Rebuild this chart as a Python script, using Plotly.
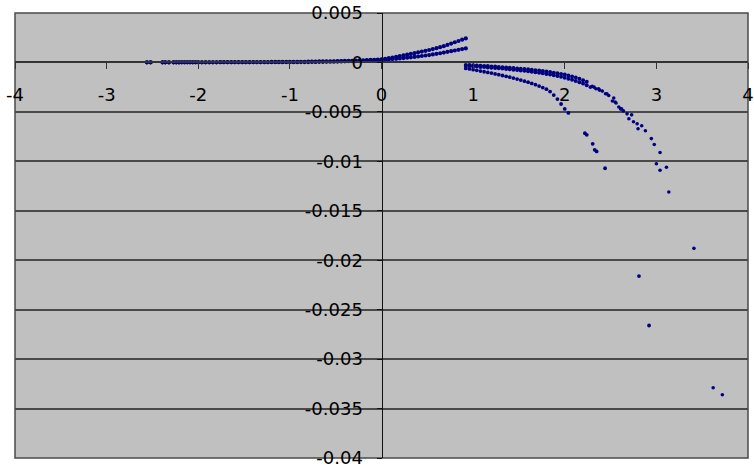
import plotly.graph_objects as go

# ---------------- data ----------------
# left branch: shared x, two curves
x_left = [-2.56, -2.52, -2.39, -2.36, -2.32, -2.27, -2.24, -2.21, -2.18, -2.15, -2.12, -2.09, -2.06, -2.03, -2.0,
          -1.96, -1.92, -1.88, -1.84, -1.8, -1.76, -1.72, -1.68, -1.64, -1.6, -1.56, -1.52,
          -1.48, -1.44, -1.4, -1.36, -1.32, -1.28, -1.24, -1.2, -1.16, -1.12, -1.08, -1.04, -1.0,
          -0.96, -0.92, -0.88, -0.84, -0.8, -0.76, -0.72, -0.68, -0.64, -0.6, -0.56, -0.52,
          -0.48, -0.44, -0.4, -0.36, -0.32, -0.28, -0.24, -0.2, -0.16, -0.12, -0.08, -0.04,
          0.0, 0.04, 0.08, 0.12, 0.16, 0.2, 0.24, 0.28, 0.32, 0.36, 0.4, 0.44,
          0.48, 0.52, 0.56, 0.6, 0.64, 0.68, 0.72, 0.76, 0.8, 0.84, 0.88, 0.92]
y_left_upper = [0.00001] * 8 + [0.00002] * 7 + \
    [0.00002, 0.00002, 0.00002, 0.00002, 0.00002, 0.00003, 0.00003, 0.00003, 0.00003, 0.00003, 0.00003, 0.00003] + \
    [0.00003, 0.00003, 0.00004, 0.00004, 0.00004, 0.00004, 0.00004, 0.00005, 0.00005, 0.00005, 0.00005, 0.00006, 0.00006] + \
    [0.00006, 0.00007, 0.00007, 0.00007, 0.00008, 0.00009, 0.00009, 0.0001, 0.0001, 0.00011, 0.00012, 0.00012] + \
    [0.00013, 0.00014, 0.00015, 0.00016, 0.00017, 0.00018, 0.0002, 0.00021, 0.00023, 0.00025, 0.00027, 0.00029] + \
    [0.00031, 0.00037, 0.00043, 0.0005, 0.00057, 0.00064, 0.00071, 0.00079, 0.00086, 0.00094, 0.00102, 0.0011] + \
    [0.00118, 0.00126, 0.00135, 0.00144, 0.00154, 0.00165, 0.00177, 0.00191, 0.00204, 0.00217, 0.0023, 0.00243]
y_left_lower = [0.00001] * 15 + \
    [0.00001] * 5 + [0.00002] * 7 + \
    [0.00002] * 7 + [0.00003] * 6 + \
    [0.00003, 0.00003, 0.00004, 0.00004, 0.00004, 0.00005, 0.00005, 0.00006, 0.00006, 0.00007, 0.00007, 0.00008] + \
    [0.00009, 0.0001, 0.00011, 0.00012, 0.00013, 0.00014, 0.00015, 0.00016, 0.00018, 0.0002, 0.00021, 0.00023] + \
    [0.00025, 0.00028, 0.00031, 0.00034, 0.00037, 0.0004, 0.00044, 0.00048, 0.00052, 0.00056, 0.0006, 0.00065] + \
    [0.0007, 0.00075, 0.00081, 0.00087, 0.00093, 0.001, 0.00107, 0.00114, 0.00121, 0.00128, 0.00135, 0.00142]

# right branch, dense part: shared x, two close upper rows
x_right = [0.92, 0.96, 1.0, 1.04, 1.08, 1.12, 1.16, 1.2, 1.24, 1.28, 1.32, 1.36, 1.4, 1.44, 1.48, 1.52, 1.56,
           1.6, 1.64, 1.68, 1.72, 1.76, 1.8, 1.84, 1.88, 1.92, 1.96, 2.0, 2.04, 2.08, 2.12, 2.16, 2.2, 2.24]
y_right_a = [-0.00025, -0.00027, -0.00029, -0.00031, -0.00033, -0.00035, -0.00037, -0.0004, -0.00042, -0.00045,
             -0.00048, -0.00051, -0.00054, -0.00057, -0.0006, -0.00063, -0.00067, -0.0007, -0.00074, -0.00078,
             -0.00082, -0.00087, -0.00092, -0.00097, -0.00103, -0.00109, -0.00116, -0.00123, -0.00132, -0.00142,
             -0.00153, -0.00166, -0.0018, -0.00196]
y_right_b = [-0.00035, -0.00037, -0.0004, -0.00042, -0.00045, -0.00047, -0.0005, -0.00053, -0.00056, -0.00059,
             -0.00062, -0.00066, -0.0007, -0.00073, -0.00077, -0.00081, -0.00085, -0.0009, -0.00094, -0.00099,
             -0.00104, -0.0011, -0.00116, -0.00122, -0.00129, -0.00137, -0.00145, -0.00154, -0.00164, -0.00175,
             -0.00187, -0.002, -0.00214, -0.0023]

# right branch, lower curve
x_right_low = [0.92, 0.96, 1.0, 1.04, 1.08, 1.12, 1.16, 1.2, 1.24, 1.28, 1.32, 1.36, 1.4, 1.44, 1.48, 1.52, 1.56,
               1.6, 1.64, 1.68, 1.72, 1.76, 1.8, 1.84, 1.88, 1.92, 1.96, 2.0, 2.04,
               2.22, 2.24, 2.305, 2.327, 2.348, 2.44, 2.81, 2.92]
y_right_low = [-0.0006, -0.00066, -0.00073, -0.0008, -0.00087, -0.00094, -0.00101, -0.00108, -0.00116, -0.00124,
               -0.00132, -0.0014, -0.00149, -0.00158, -0.00168, -0.00178, -0.00189, -0.002, -0.00212, -0.00225,
               -0.00239, -0.00254, -0.0027, -0.00295, -0.0033, -0.0037, -0.0042, -0.0047, -0.0051,
               -0.00716, -0.00732, -0.00823, -0.00884, -0.009, -0.0107, -0.0216, -0.0266]

# right branch, sparse upper tail
x_tail = [2.28, 2.3, 2.32, 2.34, 2.37, 2.38, 2.41, 2.445, 2.46, 2.48, 2.52, 2.535, 2.55, 2.56, 2.59, 2.61, 2.62,
          2.64, 2.68, 2.7, 2.73, 2.75, 2.79, 2.8, 2.84, 2.88, 2.945, 2.977, 3.0, 3.04, 3.04, 3.11, 3.136,
          3.41, 3.62, 3.72]
y_tail = [-0.0025, -0.0024, -0.0025, -0.00266, -0.00266, -0.0028, -0.0029, -0.00317, -0.00317, -0.00334, -0.0039,
          -0.0036, -0.004, -0.0041, -0.0045, -0.0047, -0.0047, -0.0049, -0.0052, -0.0057, -0.0053, -0.006,
          -0.0062, -0.0067, -0.0064, -0.0069, -0.0077, -0.0083, -0.01025, -0.0091, -0.0109, -0.0106, -0.0131,
          -0.0188, -0.0329, -0.0336]

x_ticks = [-4, -3, -2, -1, 0, 1, 2, 3, 4]
x_tick_labels = ["-4", "-3", "-2", "-1", "0", "1", "2", "3", "4"]
y_ticks = [0.005, 0, -0.005, -0.01, -0.015, -0.02, -0.025, -0.03, -0.035, -0.04]
y_tick_labels = ["0.005", "0", "-0.005", "-0.01", "-0.015", "-0.02", "-0.025", "-0.03", "-0.035", "-0.04"]

# ---------------- figure ----------------
NAVY = "#000080"

fig = go.Figure()
for xs, ys, sz in [(x_left, y_left_upper, 4.2), (x_left, y_left_lower, 4.2), (x_right, y_right_a, 4.0),
                   (x_right, y_right_b, 4.0), (x_right_low, y_right_low, 3.8), (x_tail, y_tail, 3.6)]:
    fig.add_trace(go.Scatter(x=xs, y=ys, mode="markers", marker=dict(color=NAVY, size=sz),
                             showlegend=False, hoverinfo="x+y"))

x_min, x_max = -4, 4
y_min, y_max = -0.04, 0.005
font = dict(family="DejaVu Sans, sans-serif", size=18, color="#000000")

fig.update_layout(
    width=754, height=469,
    margin=dict(l=15, r=0, t=13, b=11),
    paper_bgcolor="#ffffff",
    plot_bgcolor="#c0c0c0",
    showlegend=False,
    xaxis=dict(
        range=[x_min, x_max], tickvals=x_ticks, ticktext=x_tick_labels,
        anchor="free", position=(0 - y_min) / (y_max - y_min),
        showline=True, linecolor="#333333", linewidth=1.5,
        ticks="outside", ticklen=6, tickwidth=1, tickcolor="#333333",
        ticklabelstandoff=10, ticklabeloverflow="allow",
        showgrid=False, zeroline=False, tickfont=font,
    ),
    yaxis=dict(
        range=[y_min, y_max], tickvals=y_ticks, ticktext=y_tick_labels,
        anchor="free", position=(0 - x_min) / (x_max - x_min),
        showline=True, linecolor="#111111", linewidth=1,
        ticks="outside", ticklen=5, tickwidth=1, tickcolor="#111111",
        ticklabelstandoff=10, ticklabeloverflow="allow",
        showgrid=True, gridcolor="#4a4a4a", gridwidth=1.5,
        zeroline=False, tickfont=font,
    ),
    shapes=[dict(type="rect", xref="paper", yref="paper", x0=0, y0=0, x1=1, y1=1,
                 line=dict(color="#4a4a4a", width=1.5), layer="below")],
)

# remove the browser's default 8px body margin so the figure sits at the page corner
fig.write_html("out.html", config={"displayModeBar": False},
               post_script="document.body.style.margin='0';")
